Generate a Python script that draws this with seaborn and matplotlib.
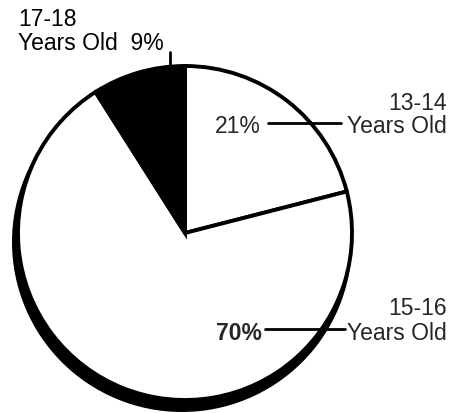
import matplotlib
matplotlib.use("Agg")
import matplotlib.pyplot as plt
import seaborn as sns
from matplotlib.patches import Circle

# Age groups and their shares (percent), clockwise from the top
age_groups = ['13-14', '15-16', '17-18']
shares = [21, 70, 9]
share_labels = ['21%', '70%', '9%']
slice_colors = ['white', 'white', 'black']

sns.set_theme(style='white')
plt.rcParams['font.family'] = ['Liberation Sans', 'DejaVu Sans']

fig = plt.figure(figsize=(4.57, 4.14), dpi=100)
ax = fig.add_axes([0, 0, 1, 1])

# dark rim under the pie (the scanned drop shadow)
ax.add_patch(Circle((182, 171), 170, facecolor='black', edgecolor='none', zorder=0))

wedges, _ = ax.pie(shares, colors=slice_colors, startangle=90, counterclock=False,
                   center=(185, 180), radius=167,
                   wedgeprops=dict(edgecolor='black', linewidth=2.8))
for w in wedges:
    w.set_zorder(1)

ax.set_xlim(0, 457)
ax.set_ylim(0, 414)
ax.axis('off')

fs = 16.5
# 17-18 label (top left)
ax.text(18, 406, age_groups[2], fontsize=fs, ha='left', va='top', color='black')
ax.text(18, 364, 'Years Old  ' + share_labels[2], fontsize=fs, ha='left', va='baseline', color='black')
ax.plot([170, 170], [361, 330], color='black', lw=2, zorder=3)

# 13-14 label (right)
ax.text(447, 304, age_groups[0], fontsize=fs, ha='right', va='baseline')
ax.text(447, 281, 'Years Old', fontsize=fs, ha='right', va='baseline')
ax.text(215, 281, share_labels[0], fontsize=fs, ha='left', va='baseline')
ax.plot([268, 341], [290, 290], color='black', lw=2, zorder=3)

# 15-16 label (lower right)
ax.text(447, 99, age_groups[1], fontsize=fs, ha='right', va='baseline')
ax.text(447, 74, 'Years Old', fontsize=fs, ha='right', va='baseline')
ax.text(216, 74, share_labels[1], fontsize=fs, ha='left', va='baseline', fontweight='bold')
ax.plot([265, 345], [84, 84], color='black', lw=2, zorder=3)

fig.savefig('out.png', dpi=100, facecolor='white')
